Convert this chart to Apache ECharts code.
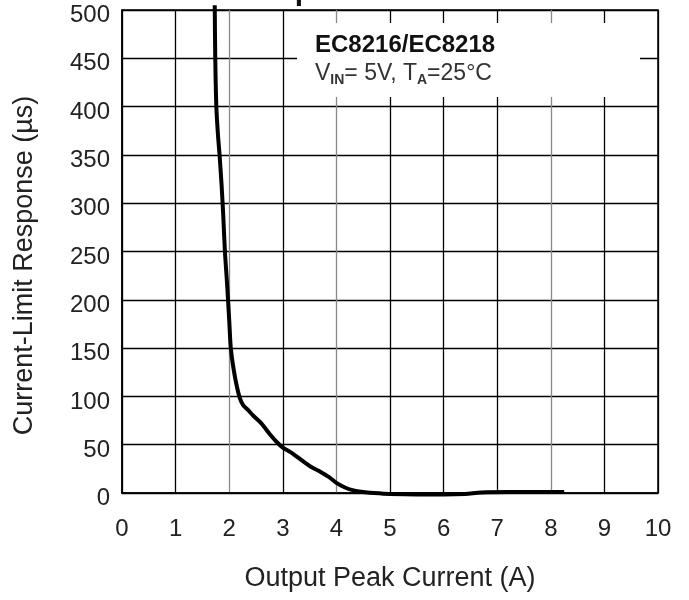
<!DOCTYPE html>
<html>
<head>
<meta charset="utf-8">
<script src="https://cdn.jsdelivr.net/npm/echarts@6/dist/echarts.min.js"></script>
<style>
html,body{margin:0;padding:0;background:#fff;}
#c{width:689px;height:600px;}
</style>
</head>
<body>
<div id="c"></div>
<script>
// Data
var currentA = [1.73,1.74,1.76,1.79,1.82,1.86,1.89,1.92,1.96,2.0,2.03,2.08,2.14,2.2,2.26,2.35,2.45,2.6,2.77,2.9,3.0,3.15,3.3,3.5,3.7,3.85,4.0,4.15,4.3,4.5,4.7,5.0,5.5,6.0,6.4,6.7,7.2,8.0,8.25];
var responseUs = [505,450,400,371,350,317,286,250,217,179,150,129,111,98,91,86,80,72,60,52,47,42,36,28,22,17,10.5,6,3,1,0,-1,-1.5,-1.5,-1,0.5,1,1,1];
var xTicks = [0,1,2,3,4,5,6,7,8,9,10];
var yTicks = [0,50,100,150,200,250,300,350,400,450,500];
var chartTitle = 'Output Peak Current';
var xName = 'Output Peak Current (A)';
var yName = 'Current-Limit Response (\u00b5s)';
var legendLine1 = 'EC8216/EC8218';

var FONT = '"Liberation Sans", Arial, sans-serif';
var points = currentA.map(function (x, i) { return [x, responseUs[i]]; });

var chart = echarts.init(document.getElementById('c'), null, {renderer: 'canvas'});
chart.setOption({
  backgroundColor: '#fff',
  animation: false,
  title: {
    text: chartTitle,
    left: 243,
    top: -23,
    padding: 0,
    textStyle: {fontFamily: FONT, fontSize: 30, fontWeight: 'bold', color: '#111'}
  },
  grid: {
    left: 122, right: 31, top: 10, bottom: 107,
    show: true, borderColor: '#000', borderWidth: 1.5, backgroundColor: 'transparent'
  },
  xAxis: {
    type: 'value',
    min: xTicks[0], max: xTicks[xTicks.length - 1], interval: 1,
    name: xName, nameLocation: 'middle', nameGap: 72,
    nameTextStyle: {fontFamily: FONT, fontSize: 27, color: '#222'},
    axisLine: {show: true, lineStyle: {color: '#000', width: 1.5}},
    axisTick: {show: false},
    axisLabel: {fontFamily: FONT, fontSize: 24, color: '#222', margin: 24},
    splitLine: {show: true, lineStyle: {color: ['#000','#000','#888','#000','#888','#000','#000','#000','#888','#000','#000'], width: 1.3}}
  },
  yAxis: {
    type: 'value',
    min: yTicks[0], max: yTicks[yTicks.length - 1], interval: 50,
    name: yName, nameLocation: 'middle', nameGap: 84,
    nameTextStyle: {fontFamily: FONT, fontSize: 27, color: '#222', padding: [0, 0, 0, -28]},
    axisLine: {show: true, lineStyle: {color: '#000', width: 1.5}},
    axisTick: {show: false},
    axisLabel: {fontFamily: FONT, fontSize: 24, color: '#222', margin: 12, verticalAlign: 'top', lineHeight: 11},
    splitLine: {show: true, lineStyle: {color: '#000', width: 1.3}}
  },
  graphic: [
    {type: 'rect', z: 100, shape: {x: 297, y: 23, width: 343, height: 74}, style: {fill: '#fff'}},
    {type: 'text', z: 101, left: 315, top: 33,
      style: {text: legendLine1, font: 'bold 24px ' + FONT, fill: '#111'}},
    {type: 'text', z: 101, left: 315, top: 62,
      style: {
        text: '{a|V}{s|IN}{a|= 5V, T}{s|A}{a|=25\u00b0C}',
        rich: {
          a: {fontFamily: FONT, fontSize: 23, lineHeight: 28, fill: '#333', color: '#333'},
          s: {fontFamily: FONT, fontSize: 14, lineHeight: 14, verticalAlign: 'bottom', fill: '#333', color: '#333', fontWeight: 'bold'}
        }
      }}
  ],
  series: [{
    type: 'line',
    data: points,
    showSymbol: false,
    symbol: 'none',
    smooth: 0.3,
    clip: false,
    lineStyle: {color: '#000', width: 4},
    z: 5
  }]
});
</script>
</body>
</html>
